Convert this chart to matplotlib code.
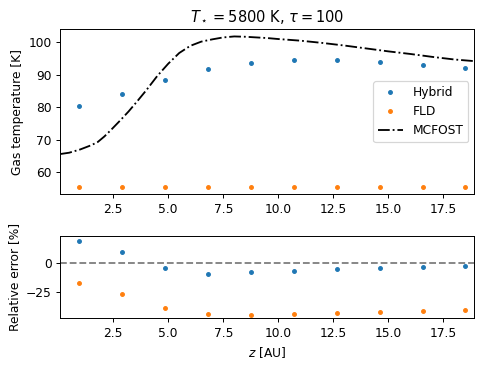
import numpy as np
import matplotlib
matplotlib.use("Agg")
import matplotlib.pyplot as plt

# sample points (AU)
z = [0.95, 2.9, 4.85, 6.8, 8.75, 10.7, 12.65, 14.6, 16.55, 18.5]
T_hybrid = [80.5, 84.0, 88.4, 91.7, 93.6, 94.4, 94.4, 93.9, 93.1, 92.1]
T_fld = [55.5, 55.5, 55.5, 55.5, 55.5, 55.5, 55.5, 55.5, 55.5, 55.5]

# MCFOST reference profile
z_mc = [0.1, 0.5, 1.0, 1.5, 1.8, 2.1, 2.4, 2.8, 3.2, 3.6, 4.0, 4.5, 5.0, 5.5,
        6.0, 6.5, 7.0, 7.5, 8.0, 8.5, 9.0, 9.5, 10.0, 11.0, 12.0, 13.0, 14.0,
        15.0, 16.0, 17.0, 18.0, 18.9]
T_mc = [65.6, 66.0, 67.0, 68.3, 69.3, 71.0, 73.0, 75.8, 78.7, 81.9, 85.2, 89.6,
        93.4, 96.7, 98.9, 100.2, 100.9, 101.5, 101.8, 101.7, 101.5, 101.3, 101.0,
        100.5, 99.8, 99.0, 98.1, 97.2, 96.4, 95.5, 94.7, 94.2]

err_hybrid = [19.8, 9.8, -4.3, -8.9, -7.7, -6.3, -4.9, -4.3, -3.4, -2.6]
err_fld = [-16.9, -27.0, -39.3, -44.2, -45.1, -44.5, -43.6, -42.8, -41.6, -40.8]

dpi = 88
fig = plt.figure(figsize=[490 / dpi, 368 / dpi], dpi=dpi)
ax1 = fig.add_axes([0.1231, 0.4720, 0.8448, 0.4484])
ax2 = fig.add_axes([0.1231, 0.1350, 0.8448, 0.2237])

ax1.plot(z, T_hybrid, '.', color='tab:blue', label='Hybrid')
ax1.plot(z, T_fld, '.', color='tab:orange', label='FLD')
ax1.plot(z_mc, T_mc, 'k-.', label='MCFOST')
ax1.set_xlim(0.1, 18.9)
ax1.set_ylim(53.2, 104)
ax1.set_yticks([60, 70, 80, 90, 100])
ax1.set_xticks([2.5, 5.0, 7.5, 10.0, 12.5, 15.0, 17.5])
ax1.set_ylabel('Gas temperature [K]')
ax1.set_title(r'$T_\star = 5800$ K, $\tau = 100$')
ax1.legend(loc='center right')

ax2.plot(z, err_hybrid, '.', color='tab:blue')
ax2.plot(z, err_fld, '.', color='tab:orange')
ax2.axhline(0, color='grey', linestyle='--')
ax2.set_xlim(0.1, 18.9)
ax2.set_ylim(-48, 24)
ax2.set_yticks([-25, 0])
ax2.set_xticks([2.5, 5.0, 7.5, 10.0, 12.5, 15.0, 17.5])
ax2.set_xlabel(r'$z$ [AU]')
ax2.set_ylabel('Relative error [%]')

fig.savefig('out.png', dpi=dpi)
